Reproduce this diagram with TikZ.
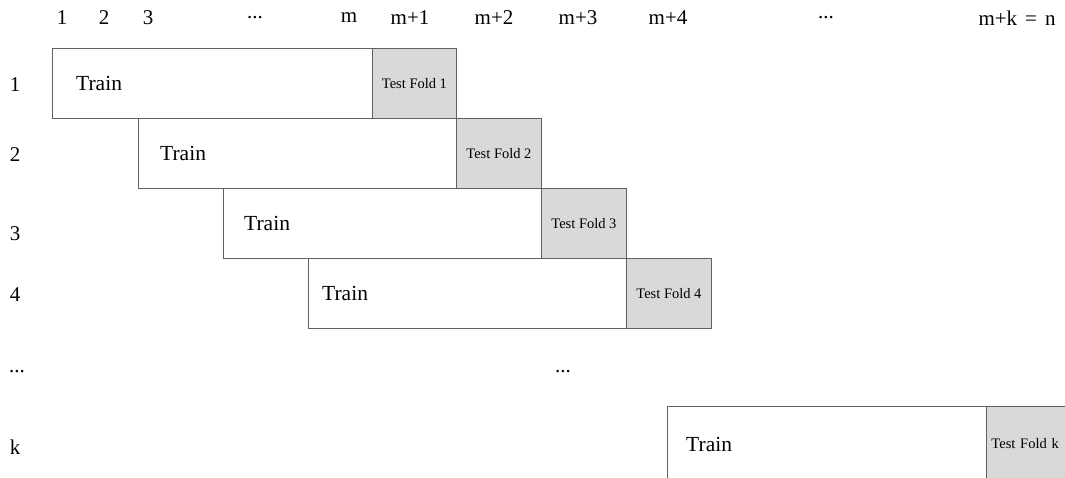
\documentclass[tikz,border=0pt]{standalone}
\usepackage{fontspec}
\setmainfont{Liberation Serif}
\begin{document}
\begin{tikzpicture}[x=1pt,y=-1pt,
  box/.style={draw=black!62, line width=0.9pt, inner sep=0pt, anchor=north west, minimum height=70pt},
  trainbox/.style={box, fill=white},
  testbox/.style={box, fill=black!15, font=\fontsize{14.5}{16}\selectfont},
  trainlbl/.style={anchor=west, inner sep=0pt, font=\fontsize{21.5}{24}\selectfont},
  axis/.style={inner sep=0pt, font=\fontsize{21}{24}\selectfont}]
\useasboundingbox (0,0) rectangle (1065,477);
\clip (0,0) rectangle (1065,477);
% column indices along the top
\node[axis] (c1)  at (62,18)   {1};
\node[axis] (c2)  at (104,18)  {2};
\node[axis] (c3)  at (148,18)  {3};
\node[axis] (cd1) at (255,18)  {...};
\node[axis] (cm)  at (349,18)  {m};
\node[axis] (cm1) at (410,18)  {m+1};
\node[axis] (cm2) at (494,18)  {m+2};
\node[axis] (cm3) at (578,18)  {m+3};
\node[axis] (cm4) at (668,18)  {m+4};
\node[axis] (cd2) at (826,18)  {...};
\node[axis] (cn)  at (1017,18) {m+k\hskip 8pt=\hskip 8pt n};
% fold indices down the left
\node[axis] (r1) at (15,85)  {1};
\node[axis] (r2) at (15,155) {2};
\node[axis] (r3) at (15,234) {3};
\node[axis] (r4) at (15,295) {4};
\node[axis] (rd) at (17,372) {...};
\node[axis] (rk) at (15,447) {k};
% fold 1
\node[trainbox, minimum width=320pt] (tr1) at (52,48) {};
\node[testbox, minimum width=84pt] (te1) at (372,48) {Test Fold 1};
\node[trainlbl] (l1) at ([xshift=24pt]tr1.west) {Train};
% fold 2
\node[trainbox, minimum width=318pt] (tr2) at (138,118) {};
\node[testbox, minimum width=85pt] (te2) at (456,118) {Test Fold 2};
\node[trainlbl] (l2) at ([xshift=22pt]tr2.west) {Train};
% fold 3
\node[trainbox, minimum width=318pt] (tr3) at (223,188) {};
\node[testbox, minimum width=85pt] (te3) at (541,188) {Test Fold 3};
\node[trainlbl] (l3) at ([xshift=21pt]tr3.west) {Train};
% fold 4
\node[trainbox, minimum width=318pt] (tr4) at (308,258) {};
\node[testbox, minimum width=85pt] (te4) at (626,258) {Test Fold 4};
\node[trainlbl] (l4) at ([xshift=14pt]tr4.west) {Train};
% gap marker
\node[axis] (md) at (563,372) {...};
% fold k
\node[trainbox, minimum width=319pt, minimum height=75pt] (trk) at (667,406) {};
\node[testbox, minimum width=85pt, minimum height=75pt, text width=80pt, align=left, inner xsep=5pt] (tek) at (986,406) {Test Fold k};
\node[trainlbl] (lk) at ([xshift=19pt,yshift=-1pt]trk.west) {Train};
\end{tikzpicture}
\end{document}
